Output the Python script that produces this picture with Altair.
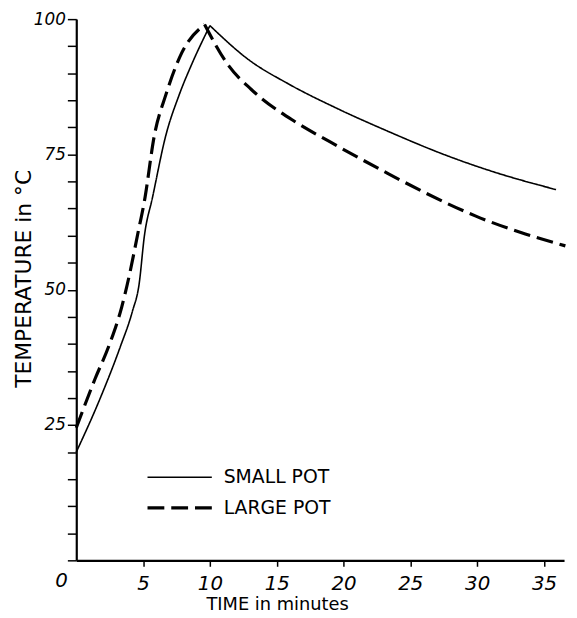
import altair as alt
import pandas as pd

# --- data ---
small_time = [0, 1.8, 3.3, 4.2, 4.7, 5.1, 5.7, 6.7, 7.7, 8.7, 10.0, 12.9, 15.9, 19.6, 23.3, 27.5, 31.2, 35.9]
small_temp = [20, 30, 39.5, 46, 51, 60, 67, 78.5, 86, 92, 98.8, 92.5, 88, 83.4, 79.3, 75, 71.8, 68.5]

large_time = [0, 1.4, 2.5, 3.4, 4.0, 4.6, 5.1, 5.85, 6.7, 7.9, 9.6, 11.4, 13.1, 16.4, 19.0, 23.3, 26.2, 29.9, 33.6, 36.6]
large_temp = [24.5, 33.5, 40, 46.8, 53, 60.3, 66.4, 78.6, 86, 93.8, 99, 91.4, 87, 81, 77.3, 71.5, 67.8, 63.6, 60.3, 58.1]

series_names = ["SMALL POT", "LARGE POT"]
x_ticks = [5, 10, 15, 20, 25, 30, 35]
y_ticks = [0, 5, 10, 15, 20, 25, 30, 35, 40, 45, 50, 55, 60, 65, 70, 75, 80, 85, 90, 95, 100]
origin_label = ["0"]

rows = []
for name, ts, vs in [(series_names[0], small_time, small_temp), (series_names[1], large_time, large_temp)]:
    peak = vs.index(max(vs))
    for i, (t, v) in enumerate(zip(ts, vs)):
        if i <= peak:
            rows.append({"series": name, "seg": "rise", "t": t, "T": v})
        if i >= peak:
            rows.append({"series": name, "seg": "fall", "t": t, "T": v})
df = pd.DataFrame(rows)

FONT = "DejaVu Sans"

legend = alt.Legend(
    title=None, orient="none", legendX=70, legendY=455,
    symbolType="stroke", symbolSize=4225, symbolStrokeColor="black",
    labelFont=FONT, labelFontSize=19, labelColor="black", labelOffset=10,
    clipHeight=16, rowPadding=12,
)

x_enc = alt.X("t:Q", scale=alt.Scale(domain=[0, 36.5], nice=False, zero=False),
              axis=alt.Axis(values=x_ticks, title="TIME in minutes", tickSize=6, grid=False,
                            labelFontSize=20, labelFontStyle="italic", labelPadding=7,
                            labelFlush=False, labelOverlap=False,
                            titleFontSize=18, titleFontWeight="normal", titleX=203, titleY=50,
                            titleAlign="center", titleBaseline="alphabetic"))
y_enc = alt.Y("T:Q", scale=alt.Scale(domain=[0, 100], nice=False),
              axis=alt.Axis(values=y_ticks, title="TEMPERATURE in °C", tickSize=9, grid=False,
                            labelExpr="(datum.value == 25 || datum.value == 50 || datum.value == 75 || datum.value == 100) ? datum.label : ''",
                            labelFontSize=17, labelFontStyle="italic", labelPadding=2,
                            labelFlush=False, labelOverlap=False,
                            titleFontSize=22, titleFontWeight="normal", titleX=-53, titleY=262,
                            titleAlign="center", titleBaseline="middle", titleAngle=270))

lines = alt.Chart(df).mark_line(color="black", interpolate="monotone").encode(
    x=x_enc,
    y=y_enc,
    strokeDash=alt.StrokeDash("series:N", scale=alt.Scale(domain=series_names, range=[[1, 0], [17, 7]]), legend=legend),
    strokeWidth=alt.StrokeWidth("series:N", scale=alt.Scale(domain=series_names, range=[1.6, 3.2]), legend=legend),
    detail="seg:N",
)

zero = alt.Chart(pd.DataFrame({"t": [0], "T": [0], "label": origin_label})).mark_text(
    dx=-15, dy=21, fontSize=20, fontStyle="italic", font=FONT, color="black"
).encode(x=x_enc, y=y_enc, text="label:N")

chart = alt.layer(lines, zero).properties(
    width=493, height=547,
    background="white",
    autosize=alt.AutoSizeParams(type="none"),
    padding={"left": 69, "top": 8, "right": 5, "bottom": 52},
).configure_view(stroke=None).configure_axis(
    grid=False, domainColor="black", domainWidth=2.2, tickColor="black", tickWidth=1.5,
    labelColor="black", titleColor="black", labelFont=FONT, titleFont=FONT,
)

chart.save("out.html", embed_options={"renderer": "svg", "actions": False})
